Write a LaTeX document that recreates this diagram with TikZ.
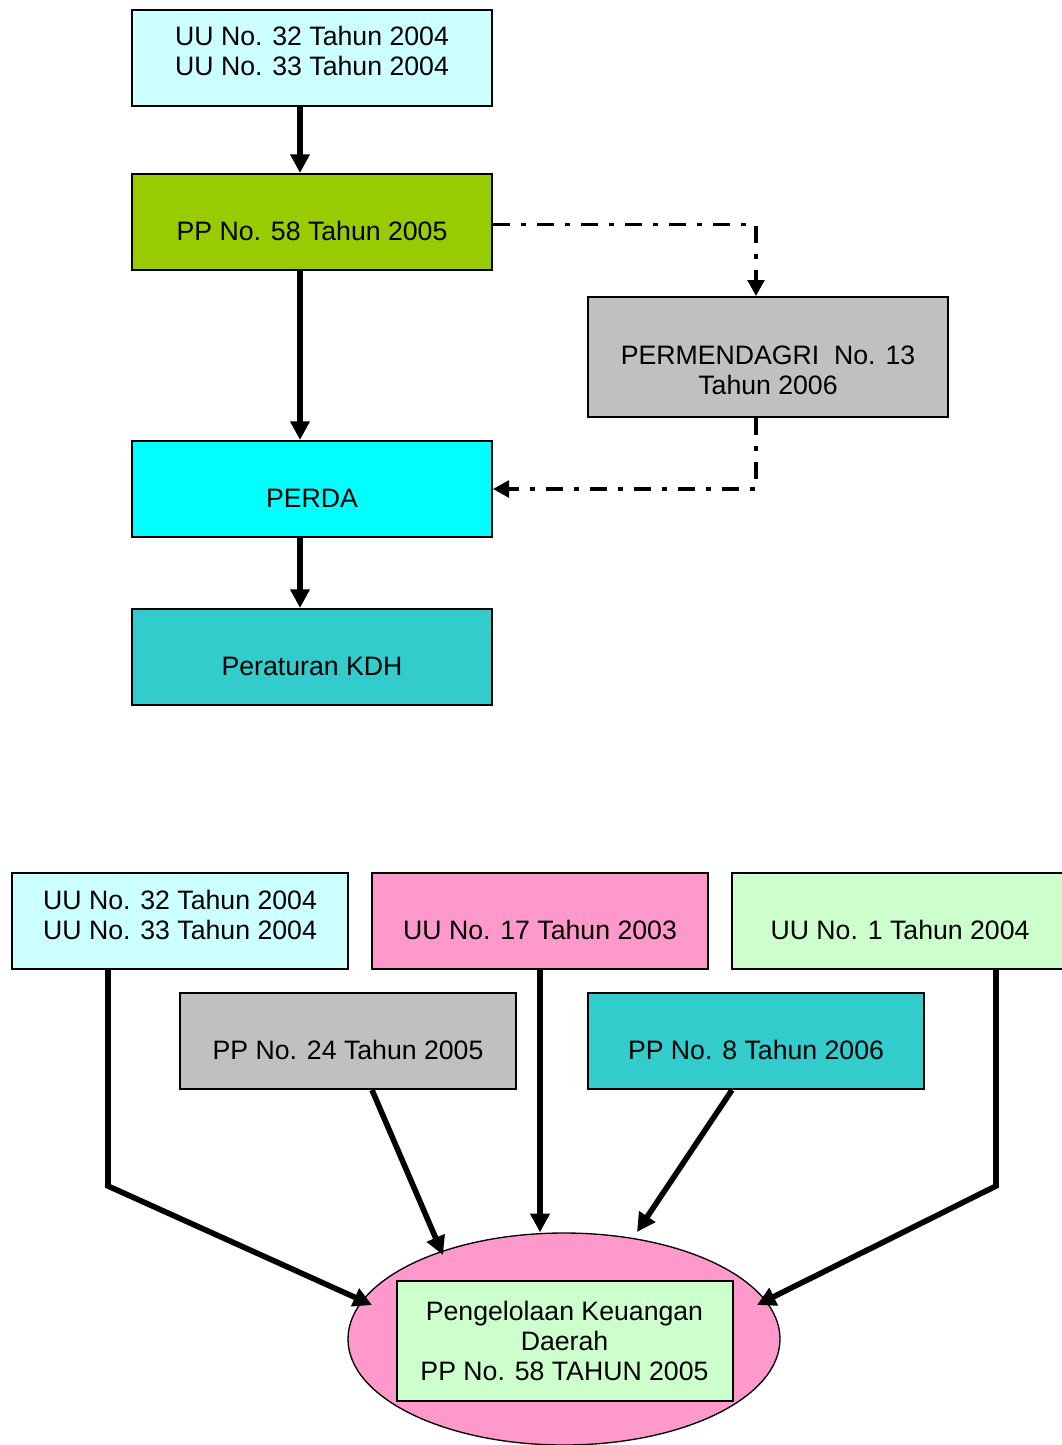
\documentclass[tikz,border=0pt]{standalone}
\usepackage{fontspec}
\setmainfont{Liberation Sans}
\usepackage{tikz}
\usetikzlibrary{shapes.geometric,arrows.meta,positioning,calc}
\definecolor{kdlight}{HTML}{CCFFFF}
\definecolor{kdlime}{HTML}{99CC00}
\definecolor{kdgrey}{HTML}{C0C0C0}
\definecolor{kdcyan}{HTML}{00FFFF}
\definecolor{kdteal}{HTML}{33CCCC}
\definecolor{kdpink}{HTML}{FF99CC}
\definecolor{kdmint}{HTML}{CCFFCC}
\newcommand{\kdfont}{\fontsize{20pt}{22.5pt}\selectfont}
\tikzset{
  box/.style      = {rectangle, draw=black, line width=1.5pt, align=center, inner sep=0pt,
                     minimum width=270pt, minimum height=72pt, font=\kdfont},
  smallbox/.style = {box, minimum width=252pt},
  % Word-style boxes: single lines sit low, two lines sit high
  oneline/.style  = {text height=27.9pt, text depth=0pt},
  twoline/.style  = {text depth=10pt},
  flow/.style     = {-{Triangle[length=14pt,width=14pt]}, line width=4.2pt, draw=black},
  flowdash/.style = {-{Triangle[length=12pt,width=12.5pt]}, line width=2.7pt, draw=black,
                     dash pattern=on 12.75pt off 8.25pt on 3.75pt off 8.25pt},
}

\begin{document}
\begin{tikzpicture}[x=0.75pt, y=-0.75pt]
\useasboundingbox (0,0) rectangle (1062,1445);

% upper chart
\node[box, twoline, fill=kdlight] (uu) at (312,58) {UU No. 32 Tahun 2004\\UU No. 33 Tahun 2004};
\node[box, oneline, fill=kdlime, below=49.5pt of uu] (pp) {PP No. 58 Tahun 2005};
\node[box, oneline, fill=kdcyan, below=126.75pt of pp] (perda) {PERDA};
\node[box, oneline, fill=kdteal, below=52.5pt of perda] (kdh) {Peraturan KDH};
\node[box, fill=kdgrey, minimum height=90pt, text height=56pt, text depth=0pt] (perm) at (768,357)
  {PERMENDAGRI\ \ No. 13\\Tahun 2006};

\draw[flow] ([xshift=-9pt]uu.south) -- ([xshift=-9pt]pp.north);
\draw[flow] ([xshift=-9pt]pp.south) -- ([xshift=-9pt]perda.north);
\draw[flow] ([xshift=-9pt]perda.south) -- ([xshift=-9pt]kdh.north);
\draw[flowdash] ([yshift=-2pt]pp.east) -| ([xshift=-9pt]perm.north);
\draw[flowdash] ([xshift=-9pt]perm.south) |- (perda.east);

% lower chart
\node[smallbox, twoline, fill=kdlight] (buu) at (180,921) {UU No. 32 Tahun 2004\\UU No. 33 Tahun 2004};
\node[smallbox, oneline, fill=kdpink] (b17) at (540,921) {UU No. 17 Tahun 2003};
\node[smallbox, oneline, fill=kdmint] (b1) at (900,921) {UU No. 1 Tahun 2004};
\node[smallbox, oneline, fill=kdgrey] (b24) at (348,1041) {PP No. 24 Tahun 2005};
\node[smallbox, oneline, fill=kdteal] (b8) at (756,1041) {PP No. 8 Tahun 2006};

\node[ellipse, draw=black, line width=1pt, fill=kdpink, inner sep=0pt,
      minimum width=324pt, minimum height=159pt] (ell) at (564,1339) {};
\node[smallbox, fill=kdmint, minimum height=90pt] (pkd) at (564.5,1340.5)
  {Pengelolaan Keuangan\\Daerah\\PP No. 58 TAHUN 2005};

\draw[flow] ([xshift=-54pt]buu.south) -- ++(0,216) -- ([shift={(-192,-34)}]ell.center);
\draw[flow] ([xshift=18pt]b24.south) -- ([shift={(-121,-84)}]ell.center);
\draw[flow] (b17.south) -- (b17.south |- ell.north);
\draw[flow] ([xshift=-18pt]b8.south) -- ([shift={(73,-107)}]ell.center);
\draw[flow] ([xshift=72pt]b1.south) -- ++(0,216) -- ([shift={(193,-34)}]ell.center);

\end{tikzpicture}
\end{document}
